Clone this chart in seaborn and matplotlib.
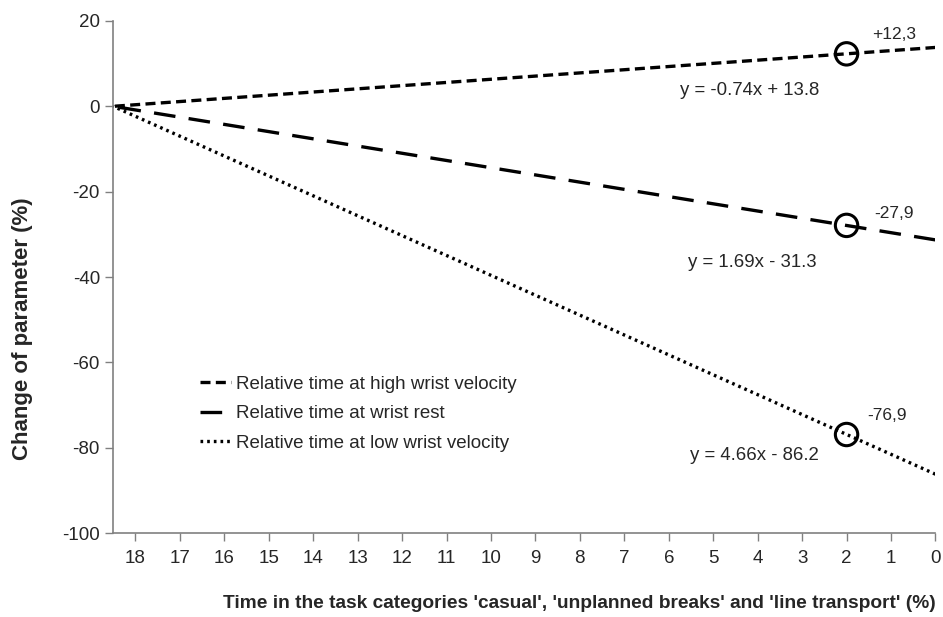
# plot.py
# Change of wrist parameters vs time in task categories (reversed x axis)

import pandas as pd
import matplotlib
matplotlib.use('Agg')
import matplotlib.pyplot as plt
import seaborn as sns

# line end points
x_ends = [18.5, 0.0]
high_velocity = [0.0, 13.8]
wrist_rest = [0.0, -31.3]
low_velocity = [0.0, -86.2]

series_names = ['Relative time at high wrist velocity',
                'Relative time at wrist rest',
                'Relative time at low wrist velocity']

# circled values at x = 2
marker_x = [2, 2, 2]
marker_y = [12.3, -27.9, -76.9]
marker_labels = ['+12,3', '-27,9', '-76,9']
equations = ['y = -0.74x + 13.8', 'y = 1.69x - 31.3', 'y = 4.66x - 86.2']

x_ticks = list(range(0, 19))
y_ticks = [-100, -80, -60, -40, -20, 0, 20]


def build_frame():
    rows = []
    for name, ys in zip(series_names, [high_velocity, wrist_rest, low_velocity]):
        for x, y in zip(x_ends, ys):
            rows.append({'x': x, 'y': y, 'series': name})
    return pd.DataFrame(rows)


def main():
    sns.set_theme(style='white')
    plt.rcParams['font.family'] = ['Liberation Sans', 'DejaVu Sans']
    plt.rcParams['axes.unicode_minus'] = False

    df = build_frame()
    fig = plt.figure(figsize=(9.43, 6.17), dpi=100)
    ax = fig.add_axes([0.12, 0.136, 0.872, 0.83])

    dashes = {series_names[0]: (3, 1.6),
              series_names[1]: (6.5, 4),
              series_names[2]: (0.8, 1.2)}
    sns.lineplot(data=df, x='x', y='y', style='series', dashes=dashes,
                 color='black', linewidth=2.4, ax=ax, legend=True)

    sns.scatterplot(x=marker_x, y=marker_y, marker='o', s=260,
                    facecolor='none', edgecolor='black', linewidth=2.2,
                    ax=ax, zorder=5, legend=False)

    # value labels and trend equations
    label_pos = [(1.42, 16.8), (1.37, -25.1), (1.53, -72.4)]
    eq_pos = [(5.75, 3.75), (5.57, -36.6), (5.53, -81.8)]
    for txt, (x, y) in zip(marker_labels, label_pos):
        ax.text(x, y, txt, ha='left', va='center', fontsize=12.5)
    for txt, (x, y) in zip(equations, eq_pos):
        ax.text(x, y, txt, ha='left', va='center', fontsize=13.4)

    ax.set_xlim(18.5, 0)
    ax.set_ylim(-100, 20)
    ax.set_xticks(x_ticks)
    ax.set_yticks(y_ticks)
    ax.tick_params(axis='both', labelsize=13.5, length=6, width=1,
                   color='#808080', direction='out', bottom=True, left=True)
    ax.tick_params(axis='x', pad=6)
    for side in ['top', 'right']:
        ax.spines[side].set_visible(False)
    for side in ['left', 'bottom']:
        ax.spines[side].set_color('#808080')
        ax.spines[side].set_linewidth(1.2)

    ax.set_xlabel("Time in the task categories 'casual', 'unplanned breaks' and 'line transport' (%)",
                  fontsize=13.8, fontweight='bold', labelpad=20, loc='right')
    ax.set_ylabel('Change of parameter (%)', fontsize=16, fontweight='bold')
    ax.yaxis.set_label_coords(-0.097, 0.40)

    handles, labels = ax.get_legend_handles_labels()
    ax.legend(handles, labels, loc='upper left', bbox_to_anchor=(0.085, 0.34),
              frameon=False, fontsize=13.5, handlelength=1.65, handletextpad=0.25,
              labelspacing=0.66)

    fig.savefig('out.png', dpi=100)


if __name__ == '__main__':
    main()
